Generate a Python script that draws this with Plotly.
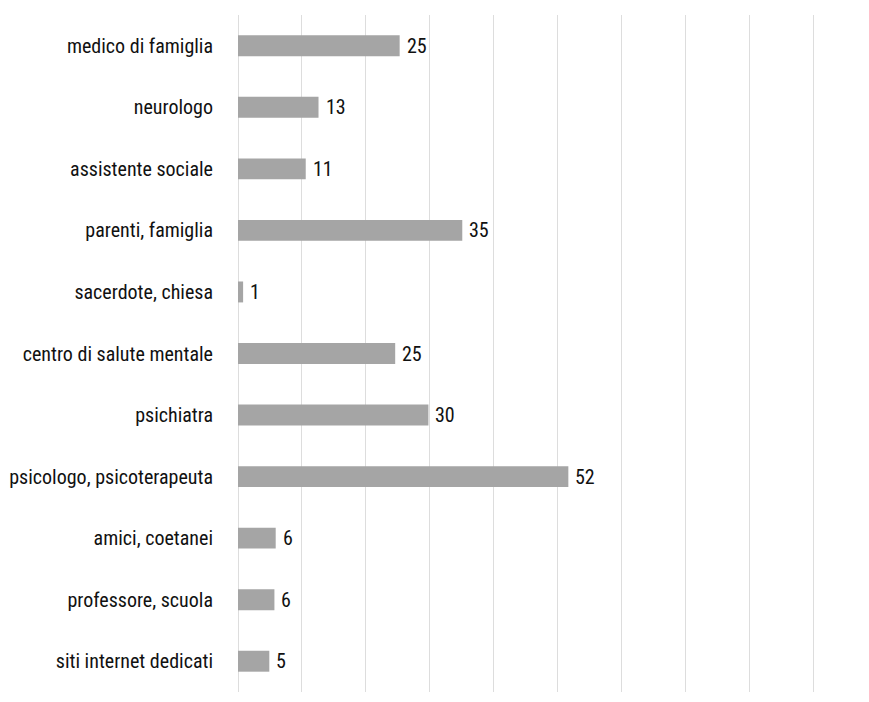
import plotly.graph_objects as go

categories = ["medico di famiglia", "neurologo", "assistente sociale", "parenti, famiglia",
              "sacerdote, chiesa", "centro di salute mentale", "psichiatra",
              "psicologo, psicoterapeuta", "amici, coetanei", "professore, scuola",
              "siti internet dedicati"]
values = [25.3, 12.6, 10.6, 35.1, 0.8, 24.6, 29.8, 51.7, 5.9, 5.7, 4.9]
labels = ["25", "13", "11", "35", "1", "25", "30", "52", "6", "6", "5"]

FONT = "'Roboto Condensed', 'DejaVu Sans Condensed', sans-serif"

fig = go.Figure(go.Bar(
    x=values, y=categories, orientation="h",
    marker=dict(color="#a5a5a5", line=dict(width=0)),
    hoverinfo="skip",
))

for v, c, t in zip(values, categories, labels):
    fig.add_annotation(x=v, y=c, text=t, showarrow=False, xanchor="left",
                       xshift=5, font=dict(family=FONT, size=20, color="#111111"))

fig.update_layout(
    width=869, height=702,
    margin=dict(l=238, r=54, t=15, b=10),
    paper_bgcolor="white", plot_bgcolor="white",
    bargap=0.66,
    showlegend=False,
    font=dict(family=FONT, size=20, color="#111111"),
)
fig.update_xaxes(range=[0, 90.3], dtick=10, showgrid=True, gridcolor="#dddddd",
                 gridwidth=1, showticklabels=False, zeroline=True,
                 zerolinecolor="#dddddd", zerolinewidth=1, showline=False)
fig.update_yaxes(autorange="reversed", showgrid=False, ticks="", ticklabelstandoff=24,
                 tickfont=dict(family=FONT, size=20, color="#111111"))

fig.write_html("out.html")
